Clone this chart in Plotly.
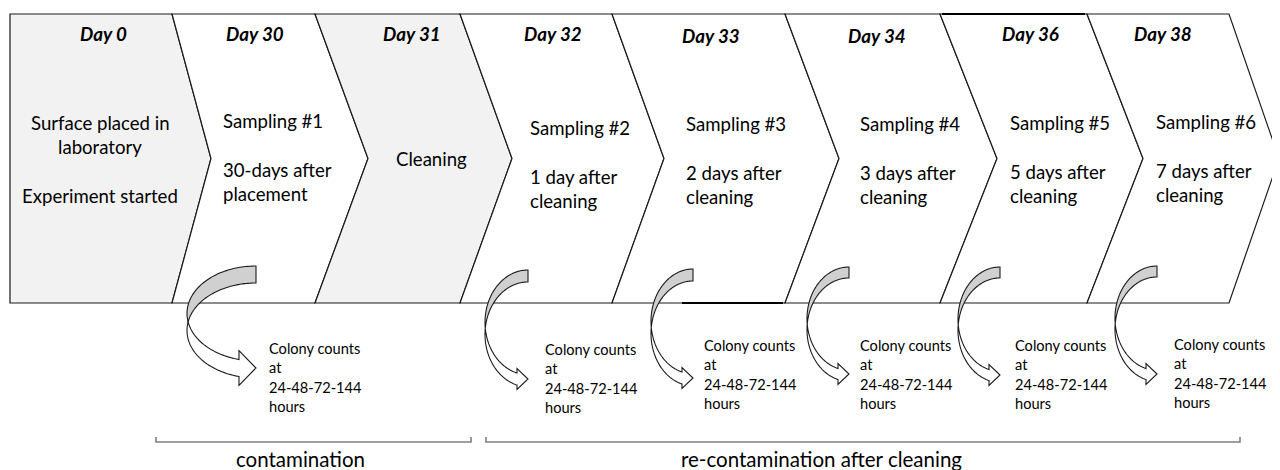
import numpy as np
import plotly.graph_objects as go

# ---------------- data ----------------
days = ["Day 0", "Day 30", "Day 31", "Day 32", "Day 33", "Day 34", "Day 36", "Day 38"]
stage_lines = [
    ["Surface placed in", "laboratory", "", "Experiment started"],
    ["Sampling #1", "", "30-days after", "placement"],
    ["Cleaning"],
    ["Sampling #2", "", "1 day after", "cleaning"],
    ["Sampling #3", "", "2 days after", "cleaning"],
    ["Sampling #4", "", "3 days after", "cleaning"],
    ["Sampling #5", "", "5 days after", "cleaning"],
    ["Sampling #6", "", "7 days after", "cleaning"],
]
shaded = [True, False, True, False, False, False, False, False]
count_lines = ["Colony counts", "at", "24-48-72-144", "hours"]
phases = ["contamination", "re-contamination after cleaning"]

# ---------------- layout constants (page pixels) ----------------
W, H = 1280, 470
PAGE_OFF = 8  # default body margin of the html page
TOP, BOT = 14, 303
MID = (TOP + BOT) / 2
LEFT = 10
edge_x = [172, 315, 460, 612, 785, 940, 1087, 1229]
tip_x = [211, 368, 512, 664, 839, 997, 1143, 1279]
day_x = [103, 255, 412, 553, 711, 877, 1030, 1163]
day_y = [33, 33, 33, 33, 35, 35, 33, 33]
text_x = [100, 221, 394, 528, 684, 858, 1008, 1154]
text_anchor = ["center"] + ["left"] * 7
text_y0 = [123, 121, 159, 128, 124, 124, 123, 122]
LINE_H = 24.4

# curved arrows: right x, horizontal radius, top y, band, tip y, head length, head half-height
arrows = [
    (256, 69, 266, 17, 368, 17, 17.5),
    (528, 43, 270, 12, 379, 11, 10.5),
    (693, 42, 269, 12, 378, 11, 10.5),
    (849, 42, 267, 11, 374, 11, 10.5),
    (1000, 42, 267, 11, 375, 11, 10.5),
    (1157, 42, 266, 11, 374, 11, 10.5),
]
count_x = [267, 543, 702, 858, 1013, 1172]
count_y0 = [348, 349, 345, 345, 345, 344]
COUNT_H = 19.5

brackets = [(156, 471), (486, 1240)]
BR_Y = 442
phase_x = [300, 821]
phase_y = 459

FONT = "Lato"
INK = "#1a1a1a"

shapes = []
annotations = []


def path_from(points, close=True):
    s = "M " + " L ".join(f"{x:.2f},{y:.2f}" for x, y in points)
    return s + (" Z" if close else "")


# chevrons
for i in range(len(days)):
    pts = []
    if i == 0:
        pts += [(LEFT, BOT), (LEFT, TOP)]
    else:
        pts += [(edge_x[i - 1], BOT), (tip_x[i - 1], MID), (edge_x[i - 1], TOP)]
    pts += [(edge_x[i], TOP), (tip_x[i], MID), (edge_x[i], BOT)]
    shapes.append(dict(type="path", path=path_from(pts), xref="x", yref="y",
                       fillcolor="#f2f2f2" if shaded[i] else "white",
                       line=dict(color=INK, width=1.2), layer="above"))

# slightly heavier edge segments as seen in the original
shapes.append(dict(type="line", x0=942, x1=1085, y0=TOP, y1=TOP, xref="x", yref="y",
                   line=dict(color="black", width=2.2), layer="above"))
shapes.append(dict(type="line", x0=682, x1=783, y0=BOT, y1=BOT, xref="x", yref="y",
                   line=dict(color="black", width=2.2), layer="above"))


def arc(cx, cy, rx, ry, t0, t1, n=60):
    ts = np.linspace(t0, t1, n)
    return [(cx + rx * np.cos(t), cy + ry * np.sin(t)) for t in ts]


for (R, rx, top, b, tip_y, hl, hh) in arrows:
    s = np.sqrt(1 - (hl / rx) ** 2)
    ry = (tip_y - b / 2 - top) / (1 + s)
    cy = top + ry
    cyb = cy + b
    d = np.arcsin(b / (2 * ry))
    tA_i = np.pi - d
    tB_i = np.pi + d
    t_base = np.arccos(-hl / rx)
    back = arc(R, cy, rx, ry, 1.5 * np.pi, tA_i) + arc(R, cyb, rx, ry, tB_i, 1.5 * np.pi)
    shapes.append(dict(type="path", path=path_from(back), xref="x", yref="y",
                       fillcolor="#d0d0d0", line=dict(color=INK, width=1.1), layer="above"))
    yc = cy + b / 2 + ry * np.sin(t_base)
    front = arc(R, cyb, rx, ry, tB_i, t_base)
    front += [(R - hl, yc + hh), (R, yc), (R - hl, yc - hh)]
    front += arc(R, cy, rx, ry, t_base, tA_i)
    shapes.append(dict(type="path", path=path_from(front), xref="x", yref="y",
                       fillcolor="white", line=dict(color=INK, width=1.1), layer="above"))

# brackets
for (x0, x1) in brackets:
    shapes.append(dict(type="path",
                       path=path_from([(x0, BR_Y - 5), (x0, BR_Y), (x1, BR_Y), (x1, BR_Y - 5)], close=False),
                       xref="x", yref="y", line=dict(color="#7f7f7f", width=1.6), layer="above"))

# texts
for i, d in enumerate(days):
    annotations.append(dict(x=day_x[i], y=day_y[i], text=d, showarrow=False,
                            xanchor="center", yanchor="middle",
                            font=dict(family=FONT, size=18.8, color="black",
                                      weight="bold", style="italic")))
    for j, line in enumerate(stage_lines[i]):
        if not line:
            continue
        annotations.append(dict(x=text_x[i], y=text_y0[i] + j * LINE_H, text=line,
                                showarrow=False, xanchor=text_anchor[i], yanchor="middle",
                                font=dict(family=FONT, size=18.6, color="black")))

for k in range(len(arrows)):
    for j, line in enumerate(count_lines):
        annotations.append(dict(x=count_x[k], y=count_y0[k] + j * COUNT_H, text=line,
                                showarrow=False, xanchor="left", yanchor="middle",
                                font=dict(family=FONT, size=14.6, color="black")))

for k, p in enumerate(phases):
    annotations.append(dict(x=phase_x[k], y=phase_y, text=p, showarrow=False,
                            xanchor="center", yanchor="middle",
                            font=dict(family=FONT, size=20.5, color="black")))

fig = go.Figure()
fig.add_trace(go.Scatter(x=[PAGE_OFF, W], y=[PAGE_OFF, H], mode="markers",
                         marker=dict(opacity=0), hoverinfo="skip", showlegend=False))
fig.update_layout(
    width=W, height=H, margin=dict(l=0, r=0, t=0, b=0),
    paper_bgcolor="white", plot_bgcolor="white",
    xaxis=dict(range=[PAGE_OFF, W + PAGE_OFF], visible=False, fixedrange=True),
    yaxis=dict(range=[H + PAGE_OFF, PAGE_OFF], visible=False, fixedrange=True),
    shapes=shapes, annotations=annotations, showlegend=False,
)
fig.write_html("out.html")
